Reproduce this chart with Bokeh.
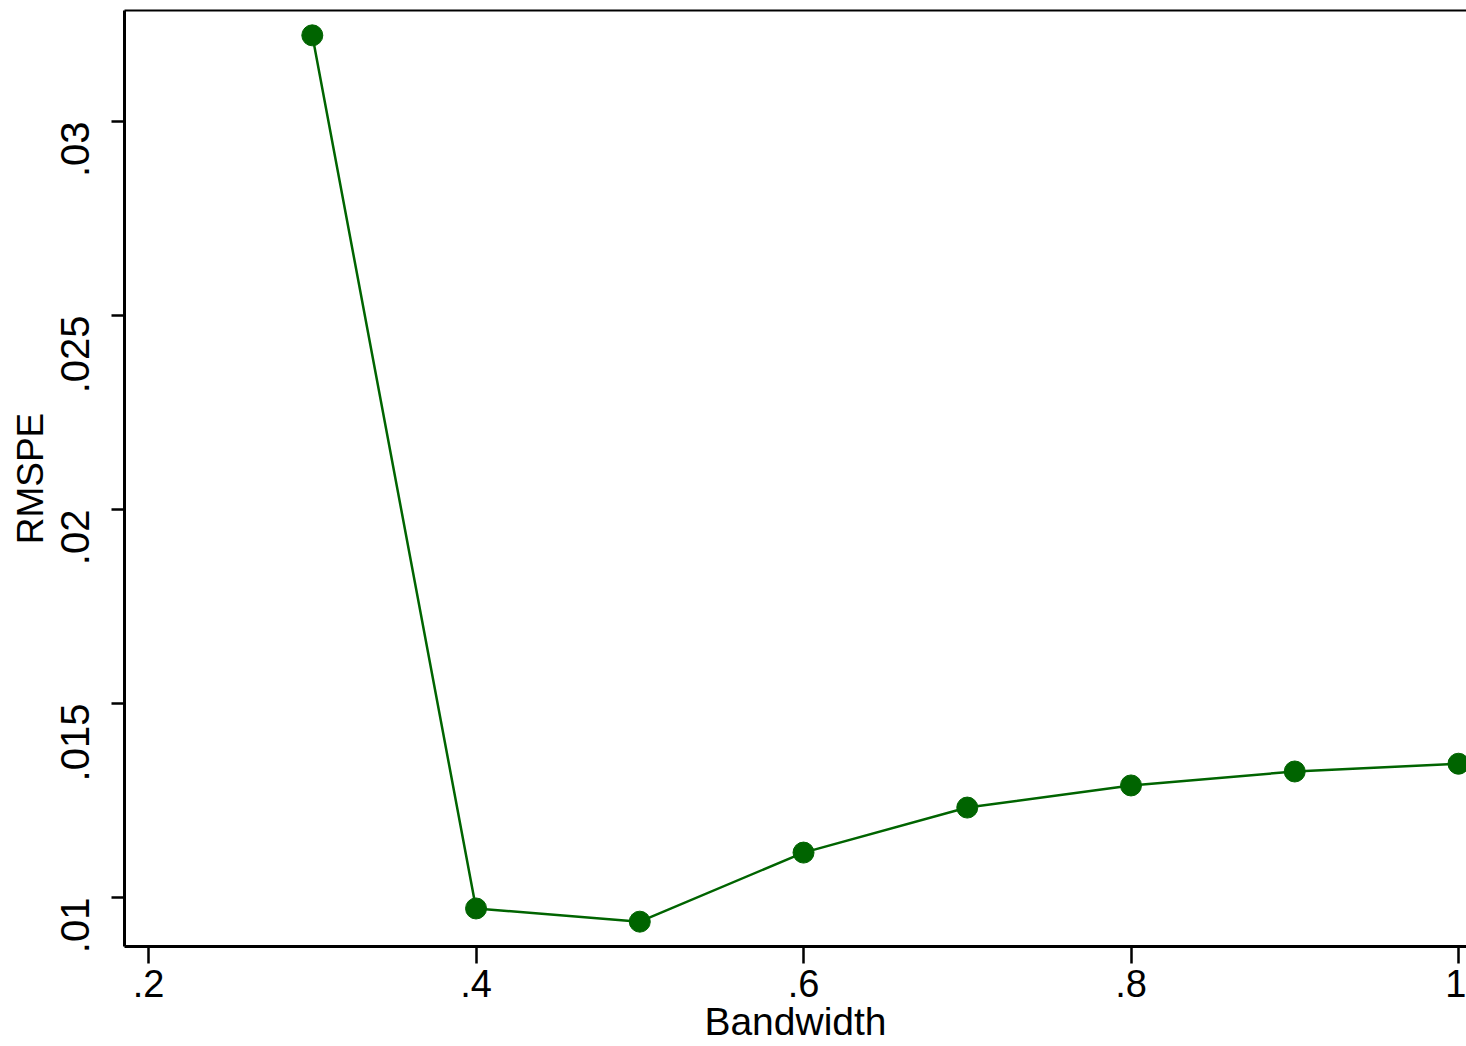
import math
from bokeh.plotting import figure
from bokeh.models import FixedTicker, Range1d, LinearAxis
from bokeh.embed import file_html
from bokeh.resources import INLINE

bandwidth = [0.3, 0.4, 0.5, 0.6, 0.7, 0.8, 0.9, 1.0]
rmspe = [0.03222, 0.00972, 0.00938, 0.01116, 0.01232, 0.01289, 0.01325, 0.01345]
x_ticks = [0.2, 0.4, 0.6, 0.8, 1.0]
x_tick_labels = [".2", ".4", ".6", ".8", "1"]
y_ticks = [0.01, 0.015, 0.02, 0.025, 0.03]
y_tick_labels = [".01", ".015", ".02", ".025", ".03"]

GREEN = "#006400"
FONT = "Liberation Sans"

p = figure(width=1466, height=1046, output_backend="svg", toolbar_location=None,
           x_range=Range1d(0.1853, 1.0049), y_range=Range1d(0.00874, 0.03286),
           min_border_left=124, min_border_right=0, min_border_top=10, min_border_bottom=100)
p.background_fill_color = "white"
p.border_fill_color = "white"
p.outline_line_color = None
p.grid.visible = False

p.line(bandwidth, rmspe, line_color=GREEN, line_width=2.5)
p.scatter(bandwidth, rmspe, size=21, fill_color=GREEN, line_color=GREEN)

for ax in (p.xaxis[0], p.yaxis[0]):
    ax.axis_line_width = 3
    ax.axis_line_color = "black"
    ax.major_tick_line_width = 2.5
    ax.major_tick_line_color = "black"
    ax.minor_tick_line_color = None
    ax.major_tick_in = 0
    ax.major_label_text_font = FONT
    ax.major_label_text_color = "black"
    ax.axis_label_text_font = FONT
    ax.axis_label_text_font_style = "normal"
    ax.axis_label_text_color = "black"

p.xaxis[0].ticker = FixedTicker(ticks=x_ticks)
p.xaxis[0].major_label_overrides = {t: l for t, l in zip(x_ticks, x_tick_labels)}
p.xaxis[0].major_tick_out = 17
p.xaxis[0].major_label_standoff = 6
p.xaxis[0].major_label_text_font_size = "38px"
p.xaxis[0].axis_label = "Bandwidth"
p.xaxis[0].axis_label_text_font_size = "39px"
p.xaxis[0].axis_label_standoff = 0

p.yaxis[0].ticker = FixedTicker(ticks=y_ticks)
p.yaxis[0].major_label_overrides = {t: l for t, l in zip(y_ticks, y_tick_labels)}
p.yaxis[0].major_tick_out = 13
p.yaxis[0].major_label_standoff = 36
p.yaxis[0].major_label_orientation = math.pi / 2
p.yaxis[0].major_label_text_font_size = "40px"
p.yaxis[0].axis_label = "RMSPE"
p.yaxis[0].axis_label_text_font_size = "37px"
p.yaxis[0].axis_label_standoff = -6

top = LinearAxis(ticker=FixedTicker(ticks=[]), axis_line_width=2, axis_line_color="black",
                 major_tick_line_color=None, minor_tick_line_color=None,
                 major_label_text_font_size="0px")
p.add_layout(top, "above")

open("out.html", "w").write(file_html(p, INLINE))
